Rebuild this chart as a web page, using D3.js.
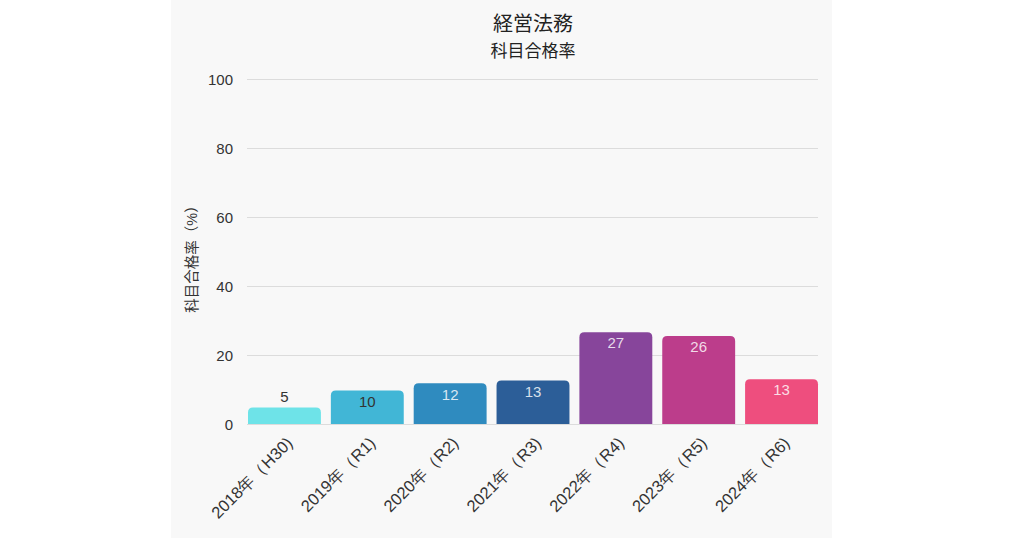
<html lang="ja">
<head>
  <meta charset="UTF-8"/>
  <title>経営法務 科目合格率</title>
  <script src="https://d3js.org/d3.v7.min.js"></script>
  <style>
    body { margin: 0; background: #fff; }
    svg { display: block; font-family: "Liberation Sans", "Noto Sans CJK JP", sans-serif; }
    .grid line { stroke: #dcdcdc; }
    .grid path { display: none; }
    .axis path, .axis line { display: none; }
    .axis text { fill: #333; font-size: 15px; }
    .x-axis text { font-size: 16.5px; }
  </style>
</head>
<body>
  <svg width="1024" height="538"></svg>

  <script>

  const years = ['2018年（H30)', '2019年（R1)', '2020年（R2)', '2021年（R3)', '2022年（R4)', '2023年（R5)', '2024年（R6)'];
  const rates = [4.8, 9.7, 11.8, 12.6, 26.6, 25.5, 13.0];
  const colors = ['#6ee3e8', '#41b6d6', '#2f8bbf', '#2c5e98', '#87459b', '#bc3d8b', '#ee4e7e'];
  const yTicks = [0, 20, 40, 60, 80, 100];

  const svg = d3.select('svg');

  // grey panel behind the chart
  svg.append('rect')
    .attr('x', 171)
    .attr('y', 0)
    .attr('width', 661)
    .attr('height', 538)
    .attr('fill', '#f8f8f8');

  const plotLeft = 248, plotRight = 818, plotTop = 79, plotBottom = 424;

  const xScale = d3.scaleBand()
    .range([plotLeft, plotRight])
    .domain(years)
    .paddingInner(0.12)
    .paddingOuter(0);

  const yScale = d3.scaleLinear()
    .range([plotBottom, plotTop])
    .domain([0, 100]);

  svg.append('g')
    .attr('class', 'grid')
    .attr('transform', `translate(${plotLeft - 1}, 0)`)
    .call(d3.axisLeft(yScale)
      .tickValues(yTicks)
      .tickSize(-(plotRight - plotLeft + 1))
      .tickFormat('')
    );

  svg.append('g')
    .attr('class', 'axis')
    .attr('transform', `translate(${plotLeft - 12}, 0)`)
    .call(d3.axisLeft(yScale).tickValues(yTicks).tickSize(0))
    .selectAll('text')
    .attr('dy', '0.35em');

  // bars with rounded top corners
  const r = 5;
  const barPath = (d, i) => {
    const x0 = xScale(years[i]);
    const x1 = x0 + xScale.bandwidth();
    const y0 = yScale(d);
    return `M${x0},${plotBottom}V${y0 + r}Q${x0},${y0} ${x0 + r},${y0}H${x1 - r}Q${x1},${y0} ${x1},${y0 + r}V${plotBottom}Z`;
  };

  svg.append('g')
    .selectAll('path')
    .data(rates)
    .join('path')
    .attr('d', barPath)
    .attr('fill', (d, i) => colors[i]);

  // value labels: above short bars, inside the top of taller ones
  svg.append('g')
    .selectAll('text')
    .data(rates)
    .join('text')
    .attr('x', (d, i) => xScale(years[i]) + xScale.bandwidth() / 2)
    .attr('y', (d) => d < 8 ? yScale(d) - 11 : yScale(d) + 11)
    .attr('dy', '0.35em')
    .attr('text-anchor', 'middle')
    .attr('font-size', 15)
    .attr('fill', (d, i) => i < 2 ? '#333' : 'rgba(255,255,255,0.82)')
    .text((d) => Math.round(d));

  const xAxis = svg.append('g')
    .attr('class', 'axis x-axis')
    .attr('transform', `translate(0, ${plotBottom + 12})`)
    .call(d3.axisBottom(xScale).tickSize(0));

  xAxis.selectAll('text')
    .attr('text-anchor', 'end')
    .attr('dy', '0.35em')
    .attr('transform', 'translate(3, 2) rotate(-45)');

  svg.append('text')
    .attr('transform', `translate(197, ${(plotTop + plotBottom) / 2 + 4}) rotate(-90)`)
    .attr('text-anchor', 'middle')
    .attr('font-size', 14.5)
    .attr('fill', '#333')
    .text('科目合格率（%）');

  svg.append('text')
    .attr('x', (plotLeft + plotRight) / 2)
    .attr('y', 31)
    .attr('text-anchor', 'middle')
    .attr('font-size', 20)
    .attr('fill', '#222')
    .text('経営法務');

  svg.append('text')
    .attr('x', (plotLeft + plotRight) / 2)
    .attr('y', 57)
    .attr('text-anchor', 'middle')
    .attr('font-size', 17)
    .attr('fill', '#222')
    .text('科目合格率');

  </script>
</body>
</html>
